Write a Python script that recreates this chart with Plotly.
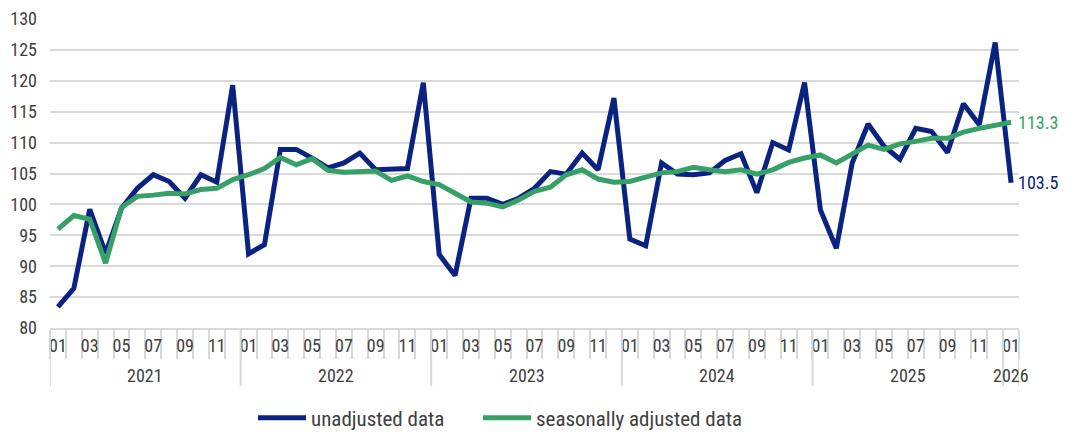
import plotly.graph_objects as go

years = ["2021", "2022", "2023", "2024", "2025", "2026"]
months = ["01", "02", "03", "04", "05", "06", "07", "08", "09", "10", "11", "12"]
categories = [f"{y}-{m}" for y in years[:-1] for m in months] + ["2026-01"]

unadjusted = [
    83.4, 86.4, 99.2, 92.1, 99.4, 102.6, 104.8, 103.7, 101.0, 104.8, 103.6, 119.3,
    92.0, 93.5, 108.9, 108.9, 107.5, 105.9, 106.7, 108.3, 105.6, 105.8, 105.8, 119.7,
    91.9, 88.5, 101.0, 101.0, 100.0, 101.0, 102.6, 105.3, 104.9, 108.3, 105.6, 117.2,
    94.4, 93.3, 106.7, 104.9, 104.8, 105.1, 107.1, 108.2, 101.9, 110.0, 108.8, 119.7,
    99.1, 92.9, 106.7, 113.0, 109.4, 107.3, 112.3, 111.8, 108.4, 116.3, 112.9, 126.2,
    103.5,
]
seasonally_adjusted = [
    96.0, 98.2, 97.6, 90.5, 99.5, 101.3, 101.5, 101.8, 101.7, 102.4, 102.6, 104.0,
    104.8, 105.8, 107.6, 106.4, 107.4, 105.5, 105.2, 105.2, 105.4, 103.9, 104.6, 103.7,
    103.2, 101.8, 100.4, 100.2, 99.6, 100.7, 102.1, 102.8, 104.8, 105.6, 104.1, 103.6,
    103.7, 104.4, 105.1, 105.3, 106.0, 105.6, 105.3, 105.6, 104.9, 105.6, 106.8, 107.5,
    108.0, 106.7, 108.2, 109.6, 108.9, 109.8, 110.2, 110.7, 110.7, 111.7, 112.3, 112.7,
    113.3,
]

BLUE = "#0a2280"
GREEN = "#37a066"
GRID = "#d9d9d9"
TEXT = "#404040"
FONT = "Liberation Sans Narrow, Roboto Condensed, DejaVu Sans Condensed, Noto Sans, sans-serif"

# the page adds an 8px body margin, so the figure is 8px smaller than the window
W, H = 1059, 424
ML, MR, MT, MB = 42, 48, 11, 104
PLOT_H = H - MT - MB
PLOT_W = W - ML - MR

idx = list(range(len(categories)))

fig = go.Figure()
fig.add_trace(go.Scatter(x=idx, y=unadjusted, mode="lines", name="unadjusted data",
                         line=dict(color=BLUE, width=5), customdata=categories,
                         legend="legend"))
fig.add_trace(go.Scatter(x=idx, y=seasonally_adjusted, mode="lines", name="seasonally adjusted data",
                         line=dict(color=GREEN, width=5), customdata=categories,
                         legend="legend2"))

# odd-month tick labels
tickvals = [i for i, c in enumerate(categories) if int(c[-2:]) % 2 == 1]
ticktext = [categories[i][-2:] for i in tickvals]

# year labels and dividers
year_pos = {}
for i, c in enumerate(categories):
    year_pos.setdefault(c[:4], []).append(i)
annotations = []
shapes = []
for y in years:
    pos = year_pos[y]
    annotations.append(dict(x=(pos[0] + pos[-1]) / 2, y=0, xref="x", yref="paper",
                            text=y, showarrow=False, yshift=-47, yanchor="middle",
                            font=dict(size=18, color=TEXT, family=FONT)))
    shapes.append(dict(type="line", xref="x", yref="paper", x0=pos[0] - 0.5, x1=pos[0] - 0.5,
                       y0=0, y1=-58 / PLOT_H, line=dict(color=GRID, width=2)))
shapes.append(dict(type="line", xref="x", yref="paper", x0=idx[-1] + 0.5, x1=idx[-1] + 0.5,
                   y0=0, y1=-58 / PLOT_H, line=dict(color=GRID, width=2)))

annotations.append(dict(x=idx[-1], y=seasonally_adjusted[-1], xref="x", yref="y",
                        text=f"{seasonally_adjusted[-1]:.1f}", showarrow=False, xanchor="left",
                        xshift=5, font=dict(size=18, color=GREEN, family=FONT)))
annotations.append(dict(x=idx[-1], y=unadjusted[-1], xref="x", yref="y",
                        text=f"{unadjusted[-1]:.1f}", showarrow=False, xanchor="left",
                        xshift=5, font=dict(size=18, color=BLUE, family=FONT)))

legend_common = dict(orientation="h", xanchor="left", xref="paper",
                     y=(H - 410) / H, yanchor="middle", yref="container",
                     font=dict(size=21, color=TEXT), itemwidth=48, bgcolor="rgba(0,0,0,0)")

fig.update_layout(
    width=W, height=H,
    margin=dict(l=ML, r=MR, t=MT, b=MB, autoexpand=False),
    paper_bgcolor="white", plot_bgcolor="white",
    font=dict(family=FONT, color=TEXT, size=18),
    showlegend=True,
    legend=dict(x=(253 - 8 - ML) / PLOT_W, **legend_common),
    legend2=dict(x=(478 - 8 - ML) / PLOT_W, **legend_common),
    annotations=annotations,
    shapes=shapes,
)
fig.update_xaxes(
    range=[-0.5, idx[-1] + 0.5], tickmode="array", tickvals=tickvals, ticktext=ticktext,
    showgrid=False, zeroline=False, showline=True, linecolor=GRID, linewidth=2,
    ticks="", ticklabelstandoff=0, tickfont=dict(size=18, color=TEXT, family=FONT),
    minor=dict(tickmode="linear", tick0=-0.5, dtick=1, ticks="outside", ticklen=29,
               tickcolor=GRID, tickwidth=2, showgrid=False),
)
fig.update_yaxes(
    range=[80, 130], dtick=5, showgrid=True, gridcolor=GRID, gridwidth=2,
    zeroline=False, showline=False, ticks="", ticklabelstandoff=12,
    tickfont=dict(size=18, color=TEXT, family=FONT),
)

fig.write_html("out.html")
